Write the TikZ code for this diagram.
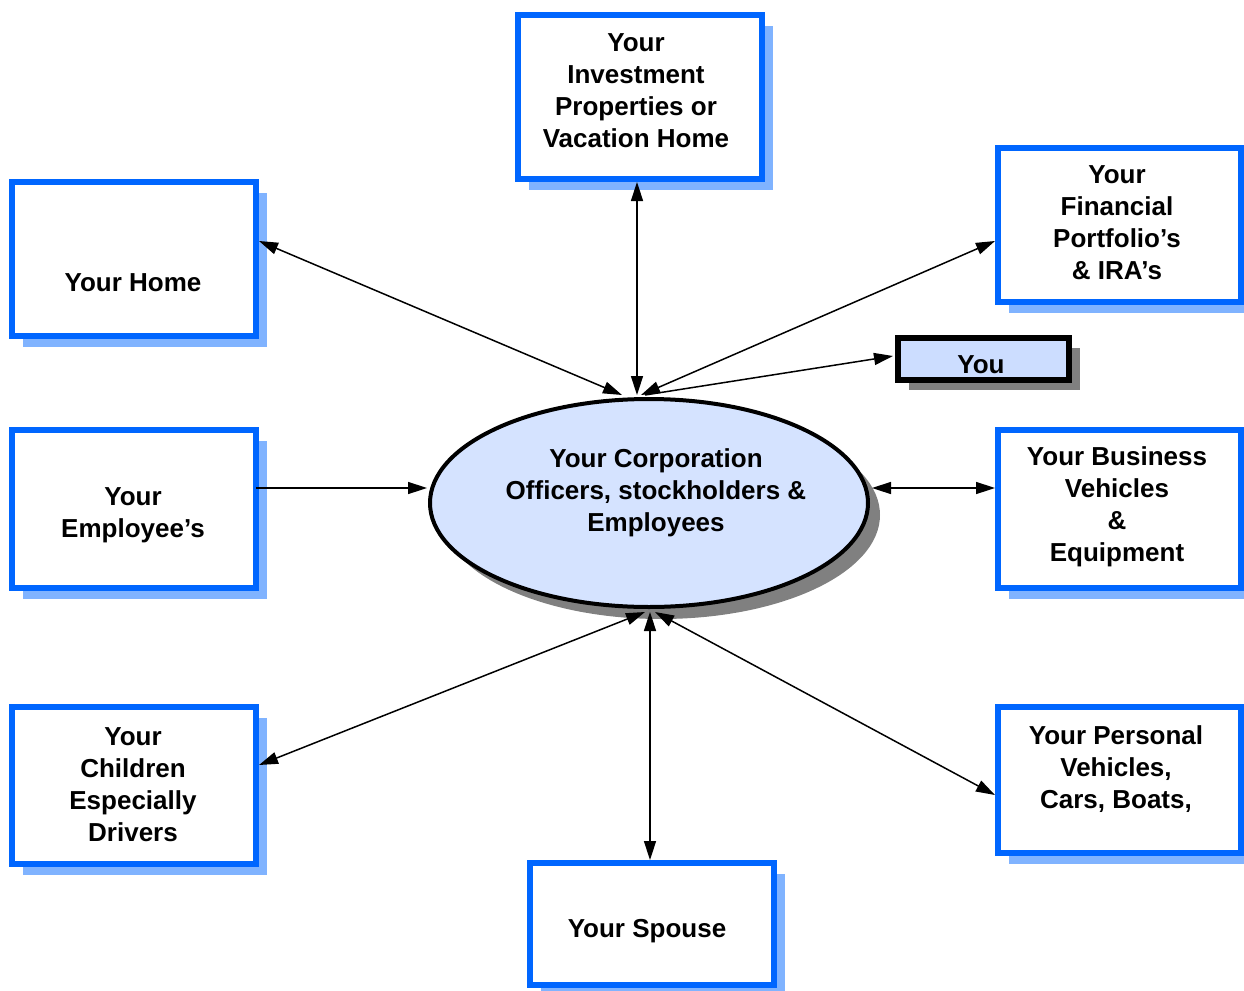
\documentclass[tikz,border=0pt]{standalone}
\usepackage{fontspec}
\setmainfont{Liberation Sans}
\usetikzlibrary{shapes.geometric,shadows,arrows.meta}

\definecolor{boxblue}{HTML}{0066FF}
\definecolor{shadeblue}{HTML}{80B3FF}
\definecolor{ovalfill}{HTML}{D5E3FF}
\definecolor{youfill}{HTML}{CCDDFF}
\definecolor{shadegray}{HTML}{808080}

\tikzset{
  card/.style={draw=boxblue, line width=3pt, fill=white, inner sep=0pt,
    minimum width=122pt,
    general shadow={fill=shadeblue, shadow xshift=5.5pt, shadow yshift=-5.5pt}},
  caption/.style={font=\bfseries\fontsize{13}{16}\selectfont, align=center, inner sep=0pt},
  tip/.style={Triangle[length=9.5pt,width=6pt]},
  link/.style={line width=0.75pt, {Triangle[length=9.5pt,width=6pt]}-{Triangle[length=9.5pt,width=6pt]}},
  onelink/.style={line width=0.75pt, -{Triangle[length=9.5pt,width=6pt]}}
}

\begin{document}
\begin{tikzpicture}[x=0.5pt, y=-0.5pt]
\useasboundingbox (0,0) rectangle (1244,991);

% outer boxes
\node[card, minimum height=82pt]  (inv)    at (640,97)    {};
\node[card, minimum height=77pt]  (home)   at (134,259)   {};
\node[card, minimum height=77pt, minimum width=121.5pt]  (fin) at (1119.5,225) {};
\node[card, minimum height=79pt]  (emp)    at (134,509)   {};
\node[card, minimum height=79pt, minimum width=121.5pt]  (bus) at (1119.5,509) {};
\node[card, minimum height=78.5pt] (kids)  at (134,785.5) {};
\node[card, minimum height=73pt, minimum width=121.5pt]  (pers) at (1119.5,780) {};
\node[card, minimum height=61pt]  (spouse) at (652,924)   {};

% the "You" box
\node[draw=black, line width=3pt, fill=youfill, inner sep=0pt,
      minimum width=85.5pt, minimum height=21pt,
      general shadow={fill=shadegray, shadow xshift=5.5pt, shadow yshift=-5pt}]
      (you) at (983.5,359) {};
\node[caption] (youtxt) at (981,365) {You};

% central oval
\node[ellipse, draw=black, line width=2pt, fill=ovalfill, inner sep=0pt,
      minimum width=219pt, minimum height=104pt,
      general shadow={fill=shadegray, shadow xshift=6pt, shadow yshift=-6pt}]
      (corp) at (649,503) {};

% texts
\node[caption] (invtxt)    at (636,91)   {Your\\Investment\\Properties or\\Vacation Home};
\node[caption] (hometxt)   at (133,283)  {Your Home};
\node[caption] (fintxt)    at (1117,223) {Your\\Financial\\Portfolio’s\\\& IRA’s};
\node[caption] (emptxt)    at (133,515)  {Your\\Employee’s};
\node[caption] (bustxt)    at (1117,507) {Your Business\\Vehicles\\\&\\Equipment};
\node[caption] (kidstxt)   at (133,785)  {Your\\Children\\Especially\\Drivers};
\node[caption] (perstxt)   at (1116,769) {Your Personal\\Vehicles,\\Cars, Boats,};
\node[caption] (spousetxt) at (647,931)  {Your Spouse};
\node[caption] (corptxt)   at (656,493)  {Your Corporation\\Officers, stockholders \&\\Employees};

% meeting points on the oval
\coordinate (topA) at (622,395);
\coordinate (topB) at (637,395);
\coordinate (topC) at (641,395);
\coordinate (topD) at (645,395);
\coordinate (botA) at (645,612);
\coordinate (botB) at (650,612);
\coordinate (botC) at (655,612);
\coordinate (leftP)  at (427,488);
\coordinate (rightP) at (872,488);

% connectors
\draw[link]    ([yshift=9pt]home.east)       -- (topA);
\draw[link]    ([xshift=-1.5pt]inv.south)    -- (topB);
\draw[link]    ([yshift=-8pt]fin.west)       -- (topC);
\draw[onelink] (topD) -- ([xshift=-1pt,yshift=1.5pt]you.west);
\draw[onelink] ([xshift=-1.5pt,yshift=10.5pt]emp.east) -- (leftP);
\draw[link]    (rightP) -- ([yshift=10.5pt]bus.west);
\draw[link]    ([yshift=10.25pt]kids.east)   -- (botA);
\draw[link]    (botB) -- ([xshift=-1pt]spouse.north);
\draw[link]    (botC) -- ([yshift=-7.5pt]pers.west);
\end{tikzpicture}
\end{document}
